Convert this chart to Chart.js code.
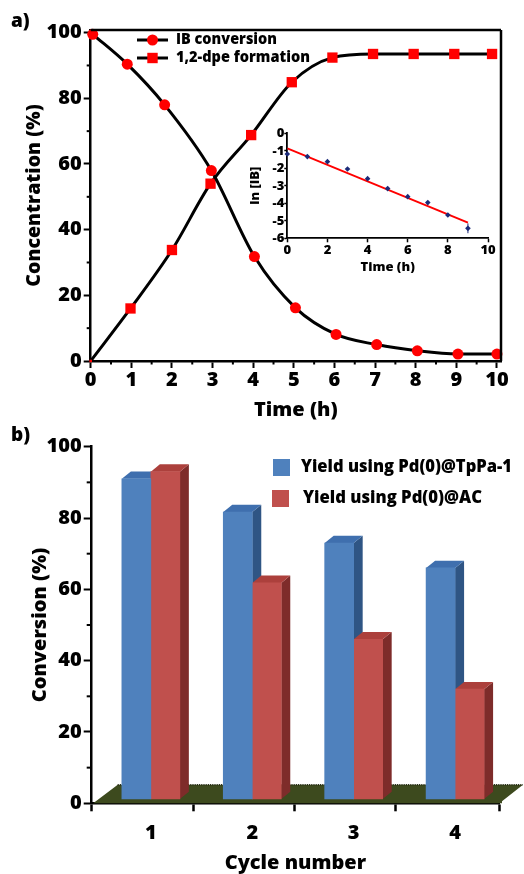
<!DOCTYPE html>
<html><head><meta charset="utf-8">
<script src="https://cdn.jsdelivr.net/npm/chart.js@4.4.1/dist/chart.umd.min.js"></script>
<style>
html,body{margin:0;padding:0;background:#fff;}
#wrap{position:relative;width:524px;height:874px;overflow:hidden;font-family:'Open Sans', sans-serif;}
canvas{position:absolute;}
.lbl{position:absolute;font-family:'Open Sans', sans-serif;font-weight:800;font-size:19px;line-height:19px;color:#000;}
</style></head><body>
<div id="wrap">
<canvas id="main" width="524" height="420" style="left:0;top:0;width:524px;height:420px"></canvas>
<canvas id="inset" width="262" height="160" style="left:240px;top:125px;width:262px;height:160px"></canvas>
<canvas id="bars" width="524" height="454" style="left:0;top:420px;width:524px;height:454px"></canvas>
<div class="lbl" style="left:11px;top:11px">a)</div>
<div class="lbl" style="left:11px;top:425px">b)</div>
</div>
<script>
// ---------- Panel a: main kinetics ----------
const ibLabel = 'IB conversion';
const dpeLabel = '1,2-dpe formation';
const ibTime  = [0.05, 0.9, 1.82, 2.97, 4.03, 5.04, 6.04, 7.04, 8.04, 9.04, 10.0];
const ibConv  = [99.5, 90.4, 78.0, 58.0, 31.8, 16.2, 8.1, 5.0, 3.1, 2.1, 2.1];
const dpeTime = [0, 0.98, 2.0, 2.95, 3.95, 4.95, 5.95, 6.95, 7.95, 8.95, 9.88];
const dpeForm = [0, 16.0, 33.8, 54.0, 68.8, 84.9, 92.4, 93.5, 93.5, 93.5, 93.5];
const mainXTicks = [0,1,2,3,4,5,6,7,8,9,10];
const mainYTicks = [0,20,40,60,80,100];

// ---------- Panel a: inset ln[IB] ----------
const lnTime = [0,1,2,3,4,5,6,7,8,9];
const lnIB   = [-1.18,-1.33,-1.62,-2.04,-2.59,-3.16,-3.62,-3.96,-4.67,-5.43];
const lnErr  = [0.12,0.05,0.05,0.06,0.05,0.06,0.05,0.06,0.06,0.28];
const fitTime = [0, 9];
const fitLn   = [-0.86, -5.10];
const insetXTicks = [0,2,4,6,8,10];
const insetYTicks = [-6,-5,-4,-3,-2,-1,0];

// ---------- Panel b: recycling ----------
const cycleNums = [1,2,3,4];
const cycleLabels = ['1','2','3','4'];
const tppaYield = [91, 81.7, 73, 66];
const acYield   = [93, 61.8, 46, 32];
const tppaLabel = 'Yield using Pd(0)@TpPa-1';
const acLabel   = 'Yield using Pd(0)@AC';
const barYTicks = [0,20,40,60,80,100];

const FONT = "'Open Sans', sans-serif";
const W = 800;
Chart.defaults.font.family = FONT;
Chart.defaults.font.weight = W;
Chart.defaults.color = '#000';
Chart.defaults.animation = false;
Chart.defaults.devicePixelRatio = 1;

function line(ctx, x1, y1, x2, y2){ctx.beginPath();ctx.moveTo(x1,y1);ctx.lineTo(x2,y2);ctx.stroke();}

const minorTicks = {
  id:'minorTicks',
  afterDraw(chart, args, o){
    const {ctx, chartArea:a, scales} = chart;
    ctx.save(); ctx.strokeStyle='#000'; ctx.lineWidth=o.width||2;
    (o.x||[]).forEach(v=>{const p=scales.x.getPixelForValue(v); line(ctx,p,a.bottom,p,a.bottom+o.xLen);});
    (o.y||[]).forEach(v=>{const p=scales.y.getPixelForValue(v); line(ctx,a.left-o.yLen,p,a.left,p);});
    ctx.restore();
  }
};
const frame = {
  id:'frame',
  afterDraw(chart, args, o){
    const {ctx, chartArea:a} = chart;
    ctx.save(); ctx.strokeStyle='#000'; ctx.lineWidth=o.width;
    line(ctx, a.left, a.top, a.right, a.top);
    line(ctx, a.right, a.top, a.right, a.bottom);
    ctx.restore();
  }
};
const lineLegend = {
  id:'lineLegend',
  afterDraw(chart, args, o){
    const ctx = chart.ctx; ctx.save();
    chart.data.datasets.forEach((ds,i)=>{
      const y = o.y + i*o.dy;
      ctx.strokeStyle='#000'; ctx.lineWidth=3;
      line(ctx, o.x1, y, o.x2, y);
      ctx.fillStyle='#f00';
      const cx=(o.x1+o.x2)/2;
      if (ds.pointStyle==='circle'){ctx.beginPath();ctx.arc(cx,y,5.5,0,Math.PI*2);ctx.fill();}
      else {ctx.fillRect(cx-5.2,y-5.2,10.4,10.4);}
      ctx.fillStyle='#000'; ctx.font=W+' 15px '+FONT; ctx.textBaseline='middle'; ctx.textAlign='left';
      ctx.fillText(ds.label, o.tx, y, o.w[i]);
    });
    ctx.restore();
  }
};

const fixedTicks = arr => (s => { s.ticks = arr.map(v=>({value:v})); });

// ---- main chart
new Chart(document.getElementById('main'), {
  type:'line',
  data:{datasets:[
    {label:ibLabel, data:ibTime.map((t,i)=>({x:t,y:ibConv[i]})), borderColor:'#000', borderWidth:3,
     pointStyle:'circle', pointRadius:5.5, pointHoverRadius:5.5, pointBackgroundColor:'#f00', pointBorderColor:'#f00', pointBorderWidth:0,
     cubicInterpolationMode:'monotone', clip:false},
    {label:dpeLabel, data:dpeTime.map((t,i)=>({x:t,y:dpeForm[i]})), borderColor:'#000', borderWidth:3,
     pointStyle:'rect', pointRadius:c=>c.dataIndex===0?1.8:7.3, pointBackgroundColor:'#f00', pointBorderColor:'#f00', pointBorderWidth:0,
     cubicInterpolationMode:'monotone', clip:false}
  ]},
  options:{
    responsive:false, events:[],
    layout:{padding:{left:0,right:23,top:30,bottom:0}},
    plugins:{legend:{display:false}, tooltip:{enabled:false},
      minorTicks:{x:[0.5,1.5,2.5,3.5,4.5,5.5,6.5,7.5,8.5,9.5], xLen:3.5, y:[10,30,50,70,90], yLen:4, width:2},
      frame:{width:2.5},
      lineLegend:{x1:137, x2:168, y:40, dy:18, tx:176, w:[101,134]}},
    scales:{
      x:{type:'linear', min:0, max:10.1, afterBuildTicks:fixedTicks(mainXTicks),
         ticks:{font:{size:20,weight:W}, color:'#000', padding:0, maxRotation:0, autoSkip:false},
         grid:{drawOnChartArea:false, tickLength:7, tickWidth:2, tickColor:'#000'},
         border:{color:'#000', width:2.5},
         title:{display:true, text:'Time (h)', font:{size:20,weight:W,lineHeight:1}, padding:{top:0,bottom:0}, color:'#000'},
         afterFit(s){s.height=59;}},
      y:{type:'linear', min:0, max:100.8, afterBuildTicks:fixedTicks(mainYTicks),
         ticks:{font:{size:20,weight:W}, color:'#000', padding:2, autoSkip:false},
         grid:{drawOnChartArea:false, tickLength:7, tickWidth:2, tickColor:'#000'},
         border:{color:'#000', width:2.5},
         title:{display:true, text:'Concentration (%)', font:{size:19.5,weight:W,lineHeight:1.2}, padding:{top:23,bottom:0}, color:'#000'},
         afterFit(s){s.width=90.7;}}
    }
  },
  plugins:[minorTicks, frame, lineLegend]
});

// ---- inset
const errBars = {
  id:'errBars',
  beforeDatasetsDraw(chart){
    const {ctx, scales:{x,y}} = chart; ctx.save(); ctx.strokeStyle='#1b2a78'; ctx.lineWidth=1;
    lnTime.forEach((t,i)=>{const px=x.getPixelForValue(t); line(ctx,px,y.getPixelForValue(lnIB[i]-lnErr[i]),px,y.getPixelForValue(lnIB[i]+lnErr[i]));});
    ctx.restore();
  }
};
new Chart(document.getElementById('inset'), {
  type:'line',
  data:{datasets:[
    {label:'ln[IB]', data:lnTime.map((t,i)=>({x:t,y:lnIB[i]})), showLine:false, pointStyle:'rectRot', pointRadius:2.8,
     pointBackgroundColor:'#1b2a78', pointBorderColor:'#1b2a78', pointBorderWidth:0, clip:false},
    {label:'fit', data:fitTime.map((t,i)=>({x:t,y:fitLn[i]})), borderColor:'#f00', borderWidth:2, pointRadius:0}
  ]},
  options:{
    responsive:false, events:[],
    layout:{padding:{left:0,right:14,top:8.3,bottom:0}},
    plugins:{legend:{display:false}, tooltip:{enabled:false}},
    scales:{
      x:{type:'linear', min:0, max:10, afterBuildTicks:fixedTicks(insetXTicks),
         ticks:{font:{size:13,weight:W}, color:'#000', padding:0, maxRotation:0, autoSkip:false},
         grid:{drawOnChartArea:false, tickLength:4, tickWidth:1.5, tickColor:'#000'},
         border:{color:'#000', width:1.8},
         title:{display:true, text:'Time (h)', font:{size:13,weight:W,lineHeight:1.2}, padding:{top:0,bottom:10}, color:'#000'},
         afterFit(s){s.height=46.7;}},
      y:{type:'linear', min:-6, max:0, afterBuildTicks:fixedTicks(insetYTicks),
         ticks:{font:{size:13,weight:W}, color:'#000', padding:0, autoSkip:false},
         grid:{drawOnChartArea:false, tickLength:3, tickWidth:1.5, tickColor:'#000'},
         border:{color:'#000', width:1.8},
         title:{display:true, text:'ln [IB]', font:{size:13,weight:W,lineHeight:1.2}, padding:{top:7,bottom:0}, color:'#000'},
         afterFit(s){s.width=47.3;}}
    }
  },
  plugins:[errBars]
});

// ---- bars
const bar3d = {
  id:'bar3d',
  beforeDatasetsDraw(chart, args, o){
    const {ctx, chartArea:a, scales:{y}} = chart;
    const y0 = y.getPixelForValue(0);
    ctx.save();
    ctx.fillStyle=o.floor;
    ctx.beginPath();
    ctx.moveTo(a.left+1.5, y0);
    ctx.lineTo(a.left+26, y0-18.5);
    ctx.lineTo(a.right+24, y0-18.5);
    ctx.lineTo(a.right+3, y0-2);
    ctx.lineTo(a.right+3, y0);
    ctx.closePath(); ctx.fill();
    ctx.strokeStyle='#1e2410'; ctx.lineWidth=1.5; ctx.setLineDash([1,1.2]);
    line(ctx, a.left+26, y0-18.5, a.right+24, y0-18.5);
    ctx.setLineDash([]);
    chart.data.datasets.forEach((ds,i)=>{
      const meta = chart.getDatasetMeta(i);
      meta.data.forEach(el=>{
        const {x, y:top, base, width} = el.getProps(['x','y','base','width'], true);
        const l=x-width/2, r=x+width/2, dx=o.dx, dy=o.dy;
        ctx.fillStyle=o.side[i];
        ctx.beginPath(); ctx.moveTo(r,top); ctx.lineTo(r+dx,top-dy); ctx.lineTo(r+dx,base-dy); ctx.lineTo(r,base); ctx.closePath(); ctx.fill();
        ctx.fillStyle=o.top[i];
        ctx.beginPath(); ctx.moveTo(l,top); ctx.lineTo(l+dx,top-dy); ctx.lineTo(r+dx,top-dy); ctx.lineTo(r,top); ctx.closePath(); ctx.fill();
      });
    });
    ctx.restore();
  }
};
const boxLegend = {
  id:'boxLegend',
  afterDraw(chart, args, o){
    const ctx = chart.ctx; ctx.save();
    chart.data.datasets.forEach((ds,i)=>{
      const it = o.items[i];
      ctx.fillStyle = ds.backgroundColor;
      ctx.fillRect(it.bx, it.by, 17, 17);
      ctx.fillStyle='#000'; ctx.font=W+' 17.5px '+FONT; ctx.textBaseline='middle'; ctx.textAlign='left';
      ctx.fillText(ds.label, it.tx, it.by+8.5, it.w);
    });
    ctx.restore();
  }
};
const barXTicks = [0.4167, 1, 1.4167, 2, 2.4167, 3, 3.4167, 4, 4.433];
new Chart(document.getElementById('bars'), {
  type:'bar',
  data:{datasets:[
    {label:tppaLabel, data:cycleNums.map((c,i)=>({x:c,y:tppaYield[i]})), backgroundColor:'#4f81bd', base:1.2, barThickness:29},
    {label:acLabel, data:cycleNums.map((c,i)=>({x:c,y:acYield[i]})), backgroundColor:'#c0504d', base:1.2, barThickness:29}
  ]},
  options:{
    responsive:false, events:[],
    layout:{padding:{left:0,right:25,top:26.7,bottom:0}},
    plugins:{legend:{display:false}, tooltip:{enabled:false},
      bar3d:{dx:9, dy:7.3, floor:'#3d4a1e', side:['#2f5584','#7e2c2a'], top:['#3f6fae','#ac403c']},
      boxLegend:{items:[{bx:273,by:39,tx:301,w:211},{bx:272,by:70,tx:303,w:179}]},
      minorTicks:{y:[10,30,50,70,90], yLen:5, width:2}},
    scales:{
      x:{type:'linear', min:0.4167, max:4.433, offset:false, afterBuildTicks:fixedTicks(barXTicks),
         ticks:{font:{size:20,weight:W}, color:'#000', padding:10, maxRotation:0, autoSkip:false,
                callback:v=>{const k=cycleNums.indexOf(v); return k>=0?cycleLabels[k]:'';}},
         grid:{offset:false, drawOnChartArea:false, tickLength:8, tickWidth:2.5,
               tickColor:c=>cycleNums.includes(c.tick.value)?'rgba(0,0,0,0)':'#000'},
         border:{color:'#000', width:2.5},
         title:{display:true, text:'Cycle number', font:{size:20,weight:W,lineHeight:1.05}, padding:{top:0,bottom:0}, color:'#000'},
         afterFit(s){s.height=70.7;}},
      y:{type:'linear', min:0, max:100, afterBuildTicks:fixedTicks(barYTicks),
         ticks:{font:{size:20,weight:W}, color:'#000', padding:2, autoSkip:false},
         grid:{drawOnChartArea:false, tickLength:8, tickWidth:2, tickColor:'#000'},
         border:{color:'#000', width:2.5},
         title:{display:true, text:'Conversion (%)', font:{size:20,weight:W,lineHeight:1.2}, padding:{top:28,bottom:0}, color:'#000'},
         afterFit(s){s.width=91.7;}}
    }
  },
  plugins:[bar3d, boxLegend, minorTicks]
});
</script>
</body></html>
